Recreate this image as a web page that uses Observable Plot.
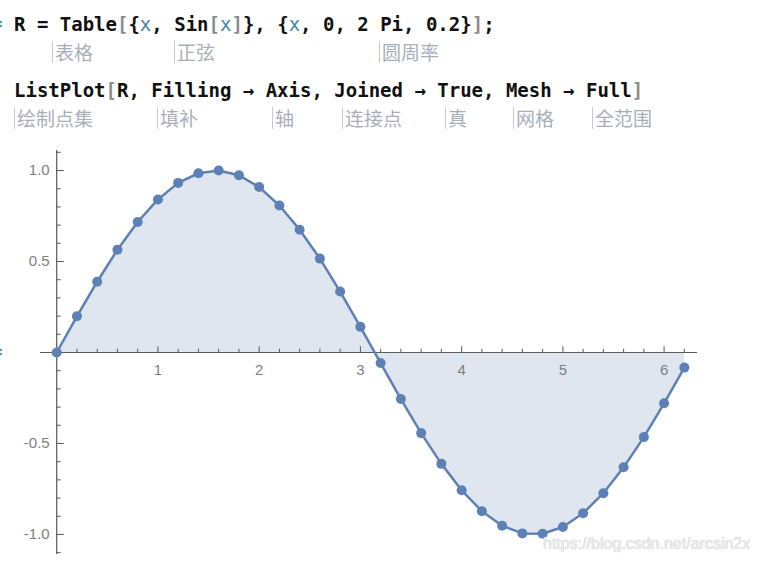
<!DOCTYPE html>
<html>
<head>
<meta charset="utf-8">
<script src="https://cdn.jsdelivr.net/npm/d3@7"></script>
<script src="https://cdn.jsdelivr.net/npm/@observablehq/plot@0.6"></script>
<style>
  html, body { margin: 0; padding: 0; background: #fff; }
  #wrap { position: relative; width: 761px; height: 563px; overflow: hidden; background: #fff; }
  .code { position: absolute; left: 14px; font-family: "DejaVu Sans Mono", "Liberation Mono", monospace; font-weight: bold; font-size: 19px; color: #111; white-space: pre; line-height: 22px; }
  .g { color: #8c8c8c; }
  .v { color: #3f86a8; font-weight: normal; }
  .ann { position: absolute; font-family: "Noto Sans CJK SC", sans-serif; font-size: 19px; color: #a7afba; line-height: 22px; border-left: 1px solid #c5cad0; padding-left: 2px; white-space: pre; }
  #chart { position: absolute; left: 0; top: 140px; }
  #wm { position: absolute; left: 543px; top: 535px; font-family: "Liberation Sans", Arial, sans-serif; font-size: 16px; color: #ececec; text-shadow: 0 0 1px #b5b5b5; white-space: pre; }
  .mk { position: absolute; left: 0; width: 2px; height: 2px; background: #4a90d9; }
</style>
</head>
<body>
<div id="wrap">
  <div class="code" style="top:13px">R = Table<span class="g">[</span>{<span class="v">x</span>, Sin<span class="g">[</span><span class="v">x</span><span class="g">]</span>}, {<span class="v">x</span>, 0, 2 Pi, 0.2}<span class="g">]</span>;</div>
  <div class="code" style="top:79px">ListPlot<span class="g">[</span>R, Filling → Axis, Joined → True, Mesh → Full<span class="g">]</span></div>
  <div id="anns"></div>
  <div class="mk" style="top:21px"></div><div class="mk" style="top:25px"></div>
  <div class="mk" style="top:349px"></div><div class="mk" style="top:353px"></div>
  <div id="chart"></div>
  <div id="wm">https://blog.csdn.net/arcsin2x</div>
</div>
<script>
const xs = [0, 0.2, 0.4, 0.6, 0.8, 1.0, 1.2, 1.4, 1.6, 1.8, 2.0, 2.2, 2.4, 2.6, 2.8, 3.0,
            3.2, 3.4, 3.6, 3.8, 4.0, 4.2, 4.4, 4.6, 4.8, 5.0, 5.2, 5.4, 5.6, 5.8, 6.0, 6.2];
const ys = [0, 0.199, 0.389, 0.565, 0.717, 0.841, 0.932, 0.985, 1.0, 0.974, 0.909, 0.808,
            0.675, 0.516, 0.335, 0.141, -0.058, -0.256, -0.443, -0.612, -0.757, -0.872,
            -0.952, -0.994, -0.996, -0.959, -0.883, -0.773, -0.631, -0.465, -0.279, -0.083];

// axis ticks and labels
const xMajor = [1, 2, 3, 4, 5, 6];
const xMinor = [0.2, 0.4, 0.6, 0.8, 1.2, 1.4, 1.6, 1.8, 2.2, 2.4, 2.6, 2.8, 3.2, 3.4, 3.6, 3.8,
                4.2, 4.4, 4.6, 4.8, 5.2, 5.4, 5.6, 5.8, 6.2];
const yMajor = [-1.0, -0.5, 0.5, 1.0];
const yMinor = [-1.1, -0.9, -0.8, -0.7, -0.6, -0.4, -0.3, -0.2, -0.1, 0.1, 0.2, 0.3, 0.4,
                0.6, 0.7, 0.8, 0.9, 1.1];
const xTickLabels = ["1", "2", "3", "4", "5", "6"];
const yTickLabels = ["-1.0", "-0.5", "0.5", "1.0"];

// code annotations (Chinese glosses)
const line1Notes = ["表格", "正弦", "圆周率"];
const line2Notes = ["绘制点集", "填补", "轴", "连接点", "真", "网格", "全范围"];

const annPos1 = [52, 174, 379];
const annPos2 = [14, 157, 272, 342, 445, 513, 592];
const annBox = document.getElementById("anns");
function addNotes(notes, pos, top) {
  notes.forEach((t, i) => {
    const d = document.createElement("div");
    d.className = "ann";
    d.style.left = pos[i] + "px";
    d.style.top = top + "px";
    d.textContent = t;
    annBox.appendChild(d);
  });
}
addNotes(line1Notes, annPos1, 41);
addNotes(line2Notes, annPos2, 107);

const data = xs.map((x, i) => ({x, y: ys[i]}));
const blue = "#5e81b5";
const axisColor = "#5a5a5a";
const labelColor = "#808080";

const chart = Plot.plot({
  width: 761,
  height: 423,
  marginLeft: 40,
  marginRight: 64,
  marginTop: 10,
  marginBottom: 9,
  style: {background: "transparent", fontFamily: "Liberation Sans, Arial, sans-serif", fontSize: "15px"},
  x: {domain: [-0.16, 6.33], axis: null},
  y: {domain: [-1.11, 1.11], axis: null},
  marks: [
    Plot.areaY(data, {x: "x", y: "y", fill: blue, fillOpacity: 0.2}),
    // axes through the origin
    Plot.ruleY([0], {x1: -0.16, x2: 6.33, stroke: axisColor, strokeWidth: 1.2}),
    Plot.ruleX([0], {y1: -1.11, y2: 1.11, stroke: axisColor, strokeWidth: 1.2}),
    Plot.ruleX(xMinor, {x: d => d, y1: 0, y2: 0.018, stroke: axisColor}),
    Plot.ruleX(xMajor, {x: d => d, y1: 0, y2: 0.032, stroke: axisColor}),
    Plot.ruleY(yMinor, {y: d => d, x1: 0, x2: 0.045, stroke: axisColor}),
    Plot.ruleY(yMajor, {y: d => d, x1: 0, x2: 0.075, stroke: axisColor}),
    Plot.text(xMajor, {x: d => d, y: 0, text: (d, i) => xTickLabels[i], dy: 18, fill: labelColor}),
    Plot.text(yMajor, {x: 0, y: d => d, text: (d, i) => yTickLabels[i], dx: -7, textAnchor: "end", fill: labelColor}),
    Plot.line(data, {x: "x", y: "y", stroke: blue, strokeWidth: 2.5}),
    Plot.dot(data, {x: "x", y: "y", r: 5, fill: blue, stroke: "none"})
  ]
});
document.getElementById("chart").appendChild(chart);
</script>
</body>
</html>
